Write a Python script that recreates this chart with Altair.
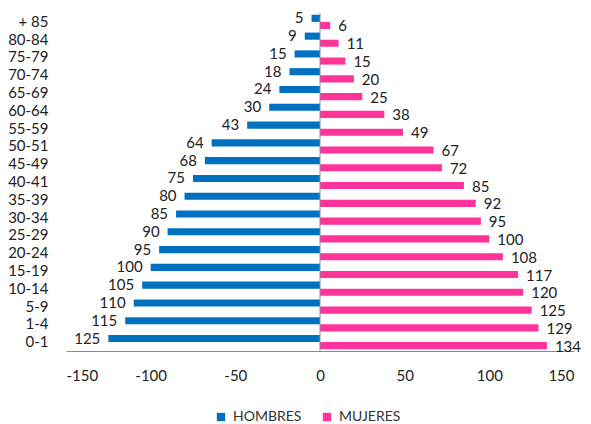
import altair as alt
import pandas as pd

grupos = ["+ 85", "80-84", "75-79", "70-74", "65-69", "60-64", "55-59", "50-51",
          "45-49", "40-41", "35-39", "30-34", "25-29", "20-24", "15-19", "10-14",
          "5-9", "1-4", "0-1"]
hombres = [5, 9, 15, 18, 24, 30, 43, 64, 68, 75, 80, 85, 90, 95, 100, 105, 110, 115, 125]
mujeres = [6, 11, 15, 20, 25, 38, 49, 67, 72, 85, 92, 95, 100, 108, 117, 120, 125, 129, 134]
series = ["HOMBRES", "MUJERES"]
colores = ["#0070C0", "#FF3399"]
ticks = [-150, -100, -50, 0, 50, 100, 150]

rows = []
for g, h, m in zip(grupos, hombres, mujeres):
    rows.append({"grupo": g, "sexo": "HOMBRES", "valor": -h, "etiqueta": str(h)})
    rows.append({"grupo": g, "sexo": "MUJERES", "valor": m, "etiqueta": str(m)})
df = pd.DataFrame(rows)

FONT = "Lato"

y_enc = alt.Y("grupo:N", sort=grupos,
              scale=alt.Scale(paddingInner=0.2, paddingOuter=0.1),
              axis=alt.Axis(title=None, domain=False, ticks=False, labelPadding=18,
                            labelFont=FONT, labelFontSize=15, labelColor="#222222"))
yoff = alt.YOffset("sexo:N", sort=series, scale=alt.Scale(domain=series))
x_enc = alt.X("valor:Q",
              scale=alt.Scale(domain=[-150, 150], nice=False),
              axis=alt.Axis(title=None, values=ticks, grid=False, ticks=False,
                            domainColor="#8c8c8c", labelPadding=17,
                            labelExpr="datum.value < 0 ? '-' + abs(datum.value) : '' + datum.value",
                            labelFont=FONT, labelFontSize=15, labelColor="#222222"))

base = alt.Chart(df)

bars = base.mark_bar().encode(
    y=y_enc,
    yOffset=yoff,
    x=x_enc,
    color=alt.Color("sexo:N", sort=series,
                    scale=alt.Scale(domain=series, range=colores),
                    legend=alt.Legend(title=None, orient="none", direction="horizontal",
                                      legendX=148, legendY=397,
                                      symbolType="square", symbolSize=70,
                                      symbolStrokeWidth=0,
                                      labelFont=FONT, labelFontSize=14,
                                      labelColor="#333333", columnPadding=18,
                                      labelOffset=5)),
)

txt_h = base.transform_filter(alt.datum.sexo == "HOMBRES").mark_text(
    align="right", baseline="middle", dx=-8, font=FONT, fontSize=15, color="#222222"
).encode(y=alt.Y("grupo:N", sort=grupos), yOffset=yoff, x="valor:Q", text="etiqueta:N")

txt_m = base.transform_filter(alt.datum.sexo == "MUJERES").mark_text(
    align="left", baseline="middle", dx=8, dy=1, font=FONT, fontSize=15, color="#222222"
).encode(y=alt.Y("grupo:N", sort=grupos), yOffset=yoff, x="valor:Q", text="etiqueta:N")

zero = alt.Chart(pd.DataFrame({"x": [0]})).mark_rule(color="#8c8c8c", strokeWidth=1).encode(
    x="x:Q"
)

chart = alt.layer(bars, zero, txt_h, txt_m).properties(
    width=508, height=338,
    autosize=alt.AutoSizeParams(type="none"),
    padding={"left": 58, "top": 5, "right": 9, "bottom": 73},
).configure_view(stroke=None)

chart.save("out.html", embed_options={"renderer": "svg", "actions": False})
